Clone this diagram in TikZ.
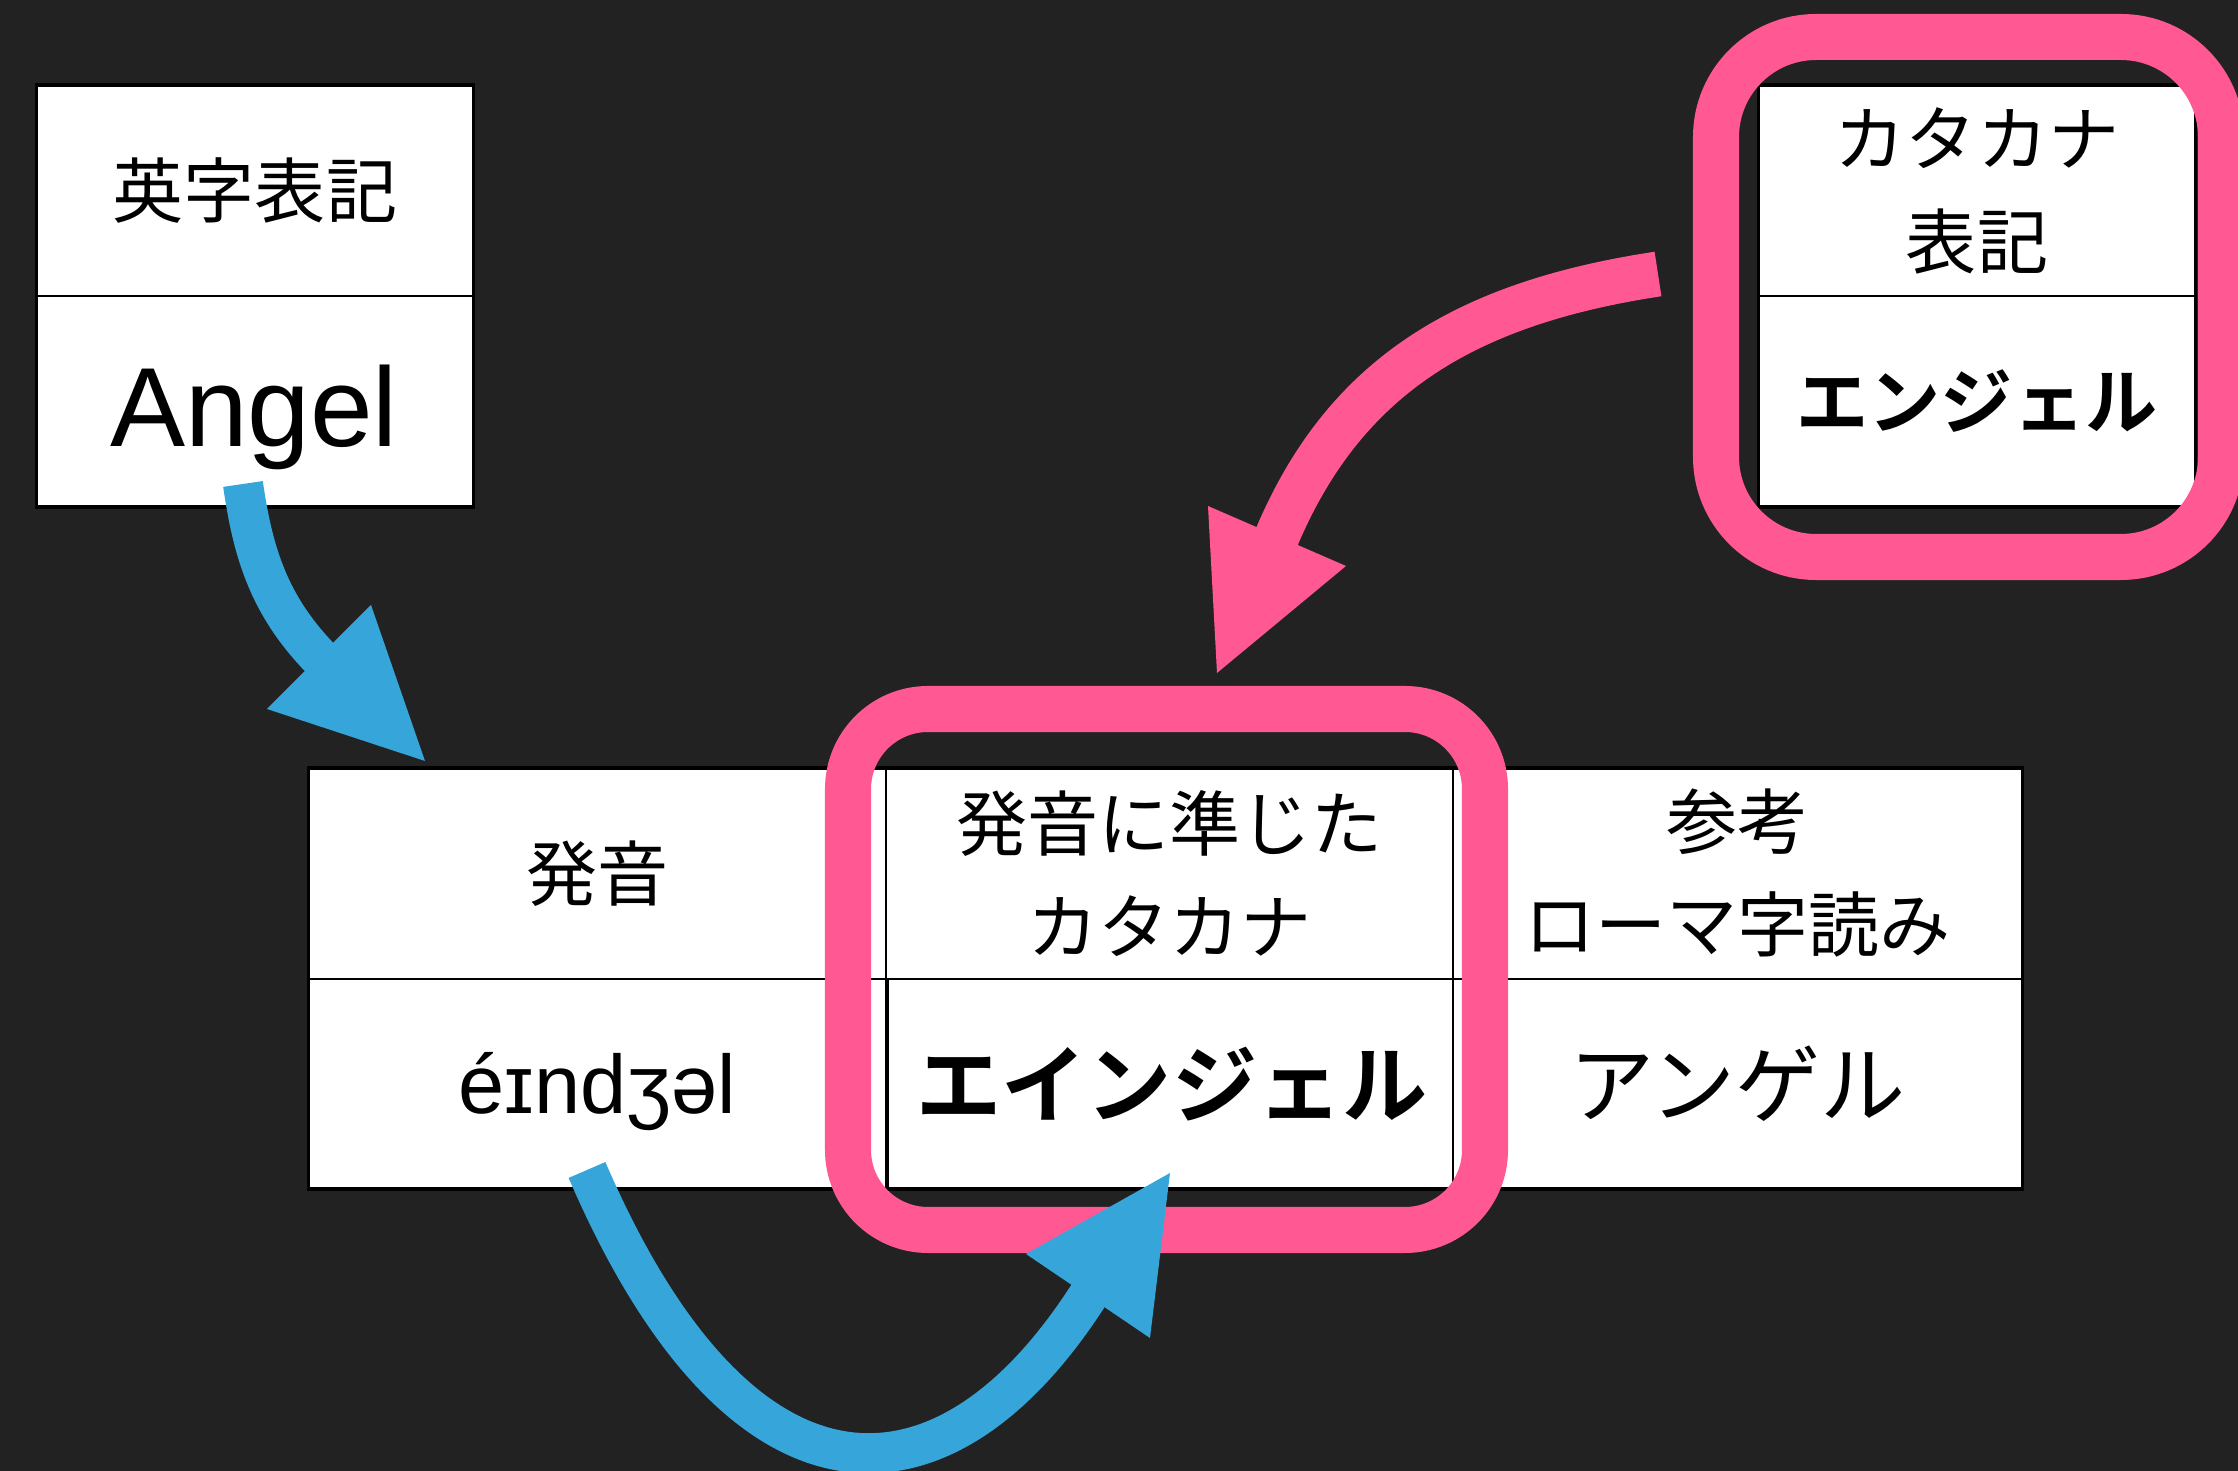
\documentclass[tikz,border=0pt]{standalone}
\usepackage{fontspec}
\usetikzlibrary{calc}
\setmainfont{Liberation Sans}
\newfontfamily\jpfont{Noto Sans CJK JP}[BoldFont={Noto Sans CJK JP Bold}]
\definecolor{bgc}{RGB}{34,34,34}
\definecolor{pkc}{RGB}{255,88,146}
\definecolor{blc}{RGB}{53,165,218}
\newcommand{\myhdr}{\jpfont\fontsize{20.2pt}{29.3pt}\selectfont}
\newcommand{\mybold}{\jpfont\bfseries\fontsize{20.5pt}{25pt}\selectfont}
\newcommand{\mybigbold}{\jpfont\bfseries\fontsize{24.2pt}{29pt}\selectfont}
\newcommand{\mybigreg}{\jpfont\fontsize{24.2pt}{29pt}\selectfont}
\tikzset{
  cellbox/.style={draw=black, line width=0.55pt, fill=white, inner sep=0pt, outer sep=0pt},
  outerline/.style={draw=black, line width=0.9pt},
  pinkring/.style={draw=pkc, line width=0.46cm},
  pinkshaft/.style={draw=pkc, line width=0.45cm},
  blueshaft/.style={draw=blc, line width=0.40cm},
}
\begin{document}
\begin{tikzpicture}[x=0.01cm, y=-0.01cm]
\fill[bgc] (0,0) rectangle (2238,1471);
\useasboundingbox (0,0) rectangle (2238,1471);
\clip (0,0) rectangle (2238,1471);

% top-left box
\node[cellbox, minimum width=4.36cm, minimum height=2.11cm, font=\myhdr] (eh) at (255,190.5) {英字表記};
\node[cellbox, minimum width=4.36cm, minimum height=2.11cm] (ev) at (255,401.5) {};
\draw[outerline] (eh.north west) rectangle (ev.south east);
\node[anchor=base, inner sep=0pt, font=\fontsize{32pt}{36pt}\selectfont] (angel) at (254,447) {Angel};

% top-right box
\node[cellbox, minimum width=4.36cm, minimum height=2.11cm, font=\myhdr, align=center] (kh) at (1977,190.5) {カタカナ\\表記};
\node[cellbox, minimum width=4.36cm, minimum height=2.11cm, font=\mybold] (kv) at (1977,401.5) {エンジェル};
\draw[outerline] (kh.north west) rectangle (kv.south east);

% bottom table
\node[cellbox, minimum width=5.77cm, minimum height=2.11cm, font=\myhdr] (h1) at (597.5,873.5) {発音};
\node[cellbox, minimum width=5.67cm, minimum height=2.11cm, font=\myhdr, align=center] (h2) at (1169.5,873.5) {発音に準じた\\カタカナ};
\node[cellbox, minimum width=5.69cm, minimum height=2.11cm, font=\myhdr, align=center] (h3) at (1737.5,873.5) {参考\\ローマ字読み};
\node[cellbox, minimum width=5.77cm, minimum height=2.10cm] (v1) at (597.5,1084) {};
\node[cellbox, minimum width=5.67cm, minimum height=2.10cm, font=\mybigbold] (v2) at (1172,1084) {エインジェル};
\node[cellbox, minimum width=5.69cm, minimum height=2.10cm, font=\mybigreg] (v3) at (1737.5,1084) {アンゲル};
\draw[outerline] (h1.north west) rectangle (v3.south east);
\node[anchor=base, inner sep=0pt, font=\fontsize{23.6pt}{28pt}\selectfont] (ipa) at (597.5,1114) {éɪndʒəl};

% pink rings
\draw[pinkring, rounded corners=0.8cm] (848,709) rectangle (1485,1230);
\draw[pinkring, rounded corners=1.0cm] (1716,37) rectangle (2221,557);

% pink arrow
\coordinate (ps) at (1658,274);
\coordinate (pb) at (1277,536);
\coordinate (pt) at (1217,673);
\coordinate (pa) at (1208,506);
\coordinate (pc) at (1346,566);
\draw[pinkshaft] (ps) .. controls (1460,304) and (1340,380) .. ($(pb)+(-4,10)$);
\fill[pkc] (pt) -- (pa) -- (pc) -- cycle;

% blue arrow 1
\coordinate (bs1) at (243,484);
\coordinate (bb1) at (319,657);
\coordinate (bt1) at (425,761);
\coordinate (ba1) at (267,709);
\coordinate (bc1) at (371,605);
\draw[blueshaft] (bs1) .. controls (253,553) and (269,608) .. ($(bb1)+(7,7)$);
\fill[blc] (bt1) -- (ba1) -- (bc1) -- cycle;

% blue arrow 2
\coordinate (bs2) at (587,1170);
\coordinate (bb2) at (1088,1296);
\coordinate (bt2) at (1170,1173);
\coordinate (ba2) at (1026,1254);
\coordinate (bc2) at (1150,1338);
\draw[blueshaft] (bs2) .. controls (740,1525) and (945,1525) .. ($(bb2)+(5,-8)$);
\fill[blc] (bt2) -- (ba2) -- (bc2) -- cycle;
\end{tikzpicture}
\end{document}
